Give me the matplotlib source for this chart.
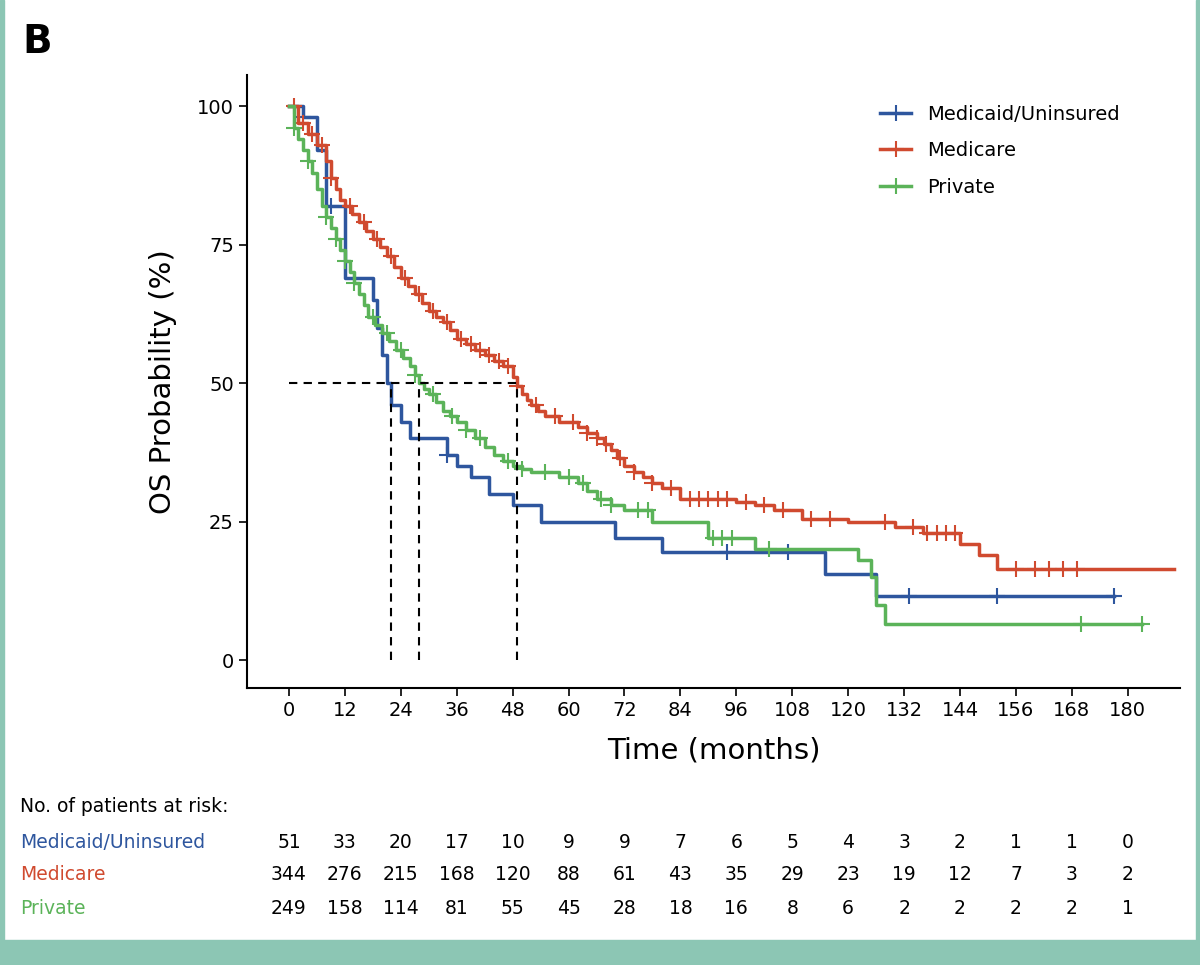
import numpy as np
import matplotlib.pyplot as plt
import matplotlib.transforms as mtransforms
from matplotlib.patches import Rectangle

# step curves (time in months, OS %)
mc_t = [0, 3, 6, 8, 12, 18, 19, 20, 21, 22, 24, 26, 34, 36, 39, 43, 48, 54, 70, 80, 115, 126, 177]
mc_s = [100, 98, 92, 82, 69, 65, 60, 55, 50, 46, 43, 40, 37, 35, 33, 30, 28, 25, 22, 19.5, 15.5, 11.5, 11.5]
mc_cens = [3, 9, 34, 94, 107, 133, 152, 177]

mr_t = [0, 2, 4, 6, 8, 9, 10, 11, 12, 13.5, 15, 16.5, 18, 19.5, 21, 22.5, 24, 25.5, 27, 28.5, 30, 31.5, 33,
        34.5, 36, 38, 40, 42, 44, 46, 48, 49, 50, 51, 52, 53.5, 55, 58, 62, 64, 66, 67.5, 69, 70.5, 72, 74,
        76, 78, 80, 84, 96, 100, 104, 110, 120, 130, 136, 144, 148, 152, 190]
mr_s = [100, 97, 95, 93, 90, 87, 85, 83, 82, 80.5, 79, 77.5, 76, 74.5, 73, 71, 69, 67.5, 66, 64.5, 63, 62, 61,
        59.5, 58, 57, 56, 55, 54, 53, 51, 49.5, 48, 47, 46, 45, 44, 43, 42, 41, 40, 39, 38, 36.5, 35, 34,
        33, 32, 31, 29, 28.5, 28, 27, 25.5, 25, 24, 23, 21, 19, 16.5, 16.5]
mr_cens = [1, 3, 5, 7, 9, 13, 16, 19, 22, 25, 28, 31, 34, 37, 39, 41, 43, 45, 47, 49, 53, 57, 61, 64, 66, 68,
           71, 74, 78, 82, 86, 88, 90, 92, 94, 98, 102, 106, 112, 116, 128, 134, 137, 139, 141, 143, 156, 160,
           163, 166, 169]

pr_t = [0, 1, 2, 3, 4, 5, 6, 7, 8, 9, 10, 11, 12, 13, 14, 15, 16, 17, 18.5, 20, 21.5, 23, 24.5, 26, 27, 28, 29,
        30, 31.5, 33, 34.5, 36, 38, 40, 42, 44, 46, 48, 50, 52, 58, 62, 64, 66, 69, 72, 78, 90,
        100, 122, 125, 126, 128, 183]
pr_s = [100, 96, 94, 92, 90, 88, 85, 82, 80, 78, 76, 74, 72, 70, 68, 66, 64, 62, 60.5, 59, 57.5, 56, 54.5, 53,
        51.5, 50, 49, 48, 46.5, 45, 44, 43, 41.5, 40, 38.5, 37, 36, 35, 34.5, 34, 33, 32, 30.5, 29, 28, 27, 25,
        22, 20, 18, 15, 10, 6.5, 6.5]
pr_cens = [1, 4, 8, 10, 12, 14, 18, 21, 24, 27, 31, 35, 38, 41, 47, 50, 55, 60, 63, 67, 69, 75, 77, 91, 93, 95,
           103, 170, 183]

groups = ["Medicaid/Uninsured", "Medicare", "Private"]
colors = ["#2e569e", "#d04a2f", "#5bb359"]
risk_times = list(range(0, 181, 12))
risk = [[51, 33, 20, 17, 10, 9, 9, 7, 6, 5, 4, 3, 2, 1, 1, 0],
        [344, 276, 215, 168, 120, 88, 61, 43, 35, 29, 23, 19, 12, 7, 3, 2],
        [249, 158, 114, 81, 55, 45, 28, 18, 16, 8, 6, 2, 2, 2, 2, 1]]
medians = [22, 28, 49]

fig = plt.figure(figsize=(12, 9.65), dpi=100)
fig.patches.append(Rectangle((0, 0), 1, 25 / 965, transform=fig.transFigure, color="#8cc6b4", zorder=-1))
fig.patches.append(Rectangle((0, 0), 4 / 1200, 1, transform=fig.transFigure, color="#8cc6b4", zorder=-1))
fig.patches.append(Rectangle((1 - 4 / 1200, 0), 4 / 1200, 1, transform=fig.transFigure, color="#8cc6b4", zorder=-1))

ax = fig.add_axes([247 / 1200, 1 - 688 / 965, (1180 - 247) / 1200, (688 - 75) / 965])
ax.set_xlim(-9, 191.2)
ax.set_ylim(-5.05, 105.6)

def surv_at(ts, ss, x):
    i = np.searchsorted(ts, x, side="right") - 1
    return ss[i]

for (t, s, c), col, name in zip([(mc_t, mc_s, mc_cens), (mr_t, mr_s, mr_cens), (pr_t, pr_s, pr_cens)], colors, groups):
    ax.step(t, s, where="post", color=col, lw=2.5, label=name)
    ax.plot(c, [surv_at(t, s, x) for x in c], ls="none", marker="+", ms=11, mew=1.5, color=col)

ax.plot([0, max(medians)], [50, 50], "k--", lw=1.5, dashes=(4, 3))
for m in medians:
    ax.plot([m, m], [0, 50], "k--", lw=1.5, dashes=(4, 3))

ax.set_xticks(risk_times)
ax.set_yticks([0, 25, 50, 75, 100])
ax.tick_params(labelsize=14, length=6, width=1.2)
for sp in ["top", "right"]:
    ax.spines[sp].set_visible(False)
for sp in ["left", "bottom"]:
    ax.spines[sp].set_linewidth(1.5)
ax.set_xlabel("Time (months)", fontsize=21, labelpad=12)
ax.set_ylabel("OS Probability (%)", fontsize=21, labelpad=14)

handles = [plt.Line2D([], [], color=col, lw=2.5, marker="+", ms=12, mew=1.5) for col in colors]
ax.legend(handles, groups, loc="upper left", bbox_to_anchor=(0.66, 0.98), frameon=False, fontsize=14,
          handlelength=1.6, labelspacing=0.9)

fig.text(22 / 1200, 1 - 42 / 965, "B", fontsize=28, fontweight="bold", va="center")
fig.text(20 / 1200, 1 - 807 / 965, "No. of patients at risk:", fontsize=13.5, va="center")
tr = mtransforms.blended_transform_factory(ax.transData, fig.transFigure)
for row, col, name, y in zip(risk, colors, groups, [842, 875, 908]):
    fig.text(20 / 1200, 1 - y / 965, name, fontsize=13.5, color=col, va="center")
    for t, n in zip(risk_times, row):
        ax.text(t, 1 - y / 965, str(n), transform=tr, ha="center", va="center", fontsize=13.5, clip_on=False)

fig.savefig("out.png", dpi=100)
